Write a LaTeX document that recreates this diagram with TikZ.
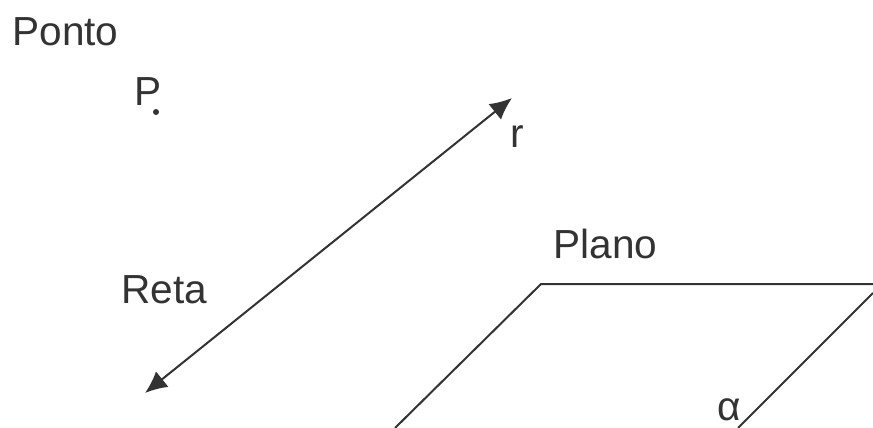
\documentclass[tikz,border=0pt]{standalone}
\usepackage{fontspec}
\setmainfont{Liberation Sans}
\usetikzlibrary{arrows.meta}
\definecolor{Ink}{HTML}{333333}

\begin{document}
\begin{tikzpicture}[x=0.5pt, y=-0.5pt,
    tag/.style={inner sep=0pt, anchor=base west, text=Ink, font=\fontsize{20.3}{24}\selectfont},
    edge/.style={draw=Ink, line width=1pt},
    tip/.style={{Latex[length=11pt, width=10pt]}-{Latex[length=11pt, width=10pt]}}
]
\useasboundingbox (0,0) rectangle (873,428);

% Ponto
\node[tag] (ponto) at (12,45) {Ponto};
\node[tag] (p) at (134,105) {P};
\node[circle, fill=Ink, inner sep=0pt, minimum size=3pt] (pdot) at (156,112) {};

% Reta
\coordinate (reta-a) at (145,393);
\coordinate (reta-b) at (512,98);
\draw[edge, tip] (reta-a) -- (reta-b);
\node[tag] (r) at (510,147) {r};
\node[tag] (reta) at (121,303) {Reta};

% Plano
\coordinate (plano-a) at (395,428);
\coordinate (plano-b) at (541,284);
\coordinate (plano-c) at (873,284);
\coordinate (plano-d) at (873,293);
\coordinate (plano-e) at (738,428);
\draw[edge] (plano-a) -- (plano-b) -- (plano-c);
\draw[edge] (plano-d) -- (plano-e);
\node[tag] (plano) at (553,258) {Plano};
\node[tag] (alpha) at (717,420) {α};

\end{tikzpicture}
\end{document}
